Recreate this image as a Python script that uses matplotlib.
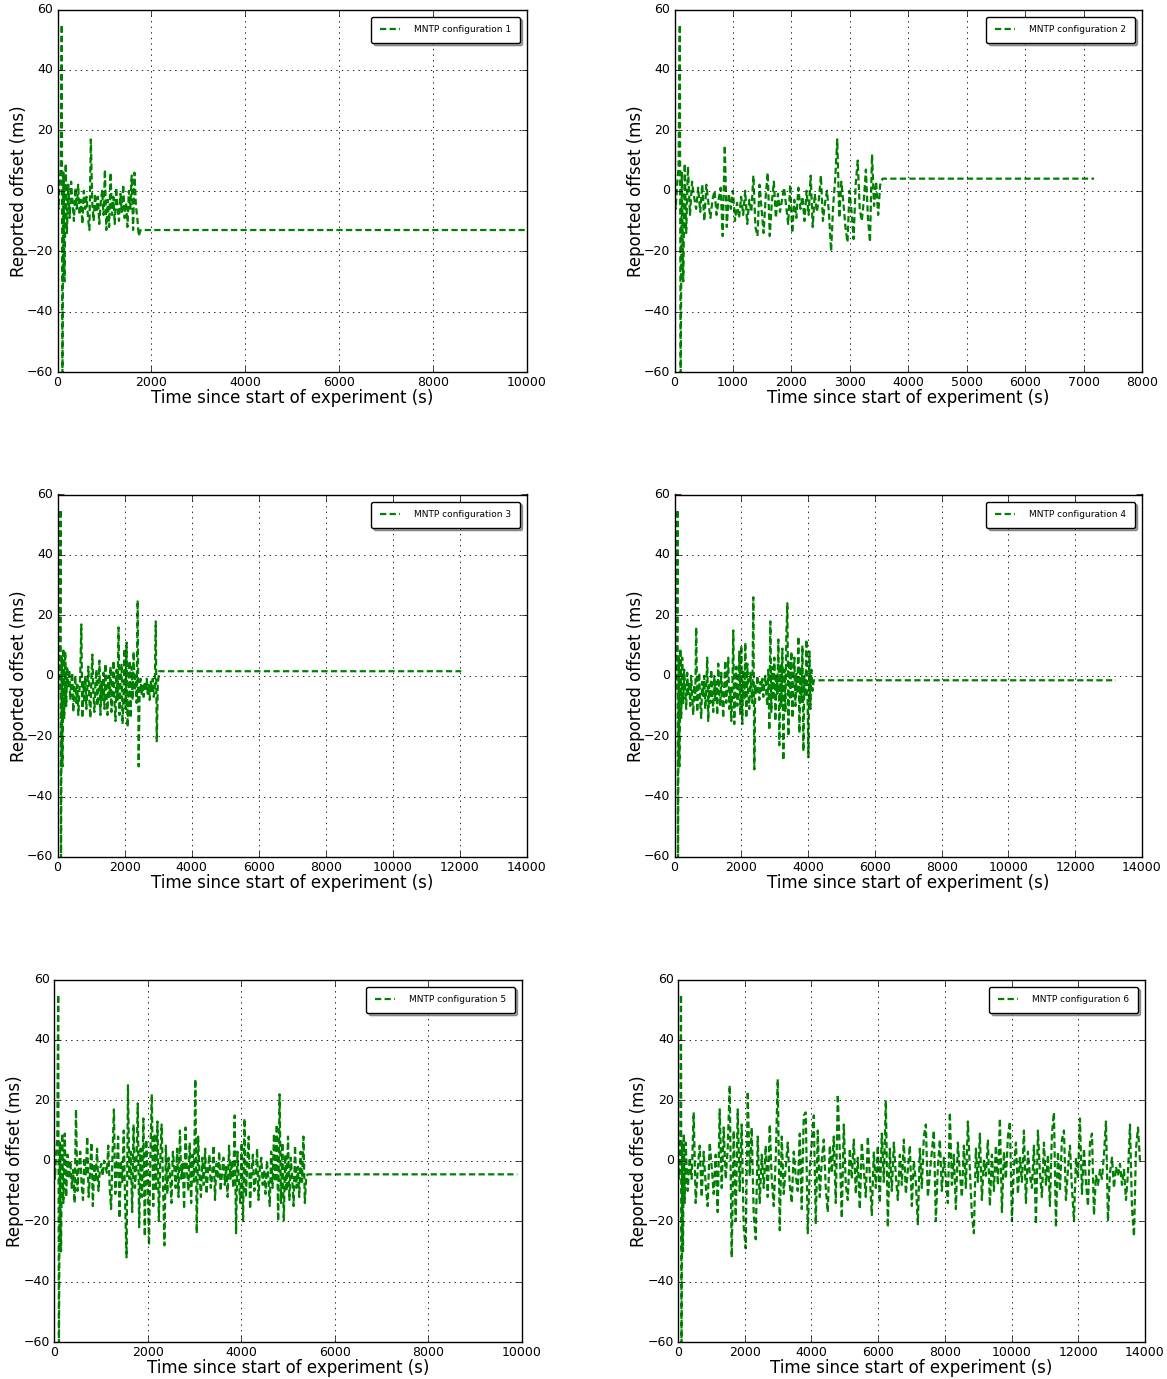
import matplotlib
matplotlib.use('Agg')
import matplotlib.pyplot as plt
import numpy as np

# Shared start-up transient (time s, offset ms)
start_t = [0, 20, 45, 70, 90, 105, 125, 150, 175, 200]
start_v = [-1, -6, 2, 8, 55, -62, 6, -30, 9, -14]

# Config 1: samples every 30 s after t=230, then flat tail
p1_step = 30
p1_vals = [2, -9, 3, -4, -10, 1, -6, 2, -8, -3,
           -11, 0, -6, -2, -9, -13, 17, -4, -10, -1,
           -7, -2, -11, -4, 0, -8, 7, -13, -3, -12,
           6, -8, -2, -11, 1, -6, -10, -1, -7, 2,
           -9, -4, -12, 0, -6, 5, -13, 6, -5, -9,
           -15]
p1_tail = -13
p1_end = 10000

# Config 2
p2_step = 35
p2_vals = [8, -8, 3, -2, -6, 1, -7, 2, -10, 2,
           -4, -9, -3, 0, -8, -3, 1, -15, 15, -12,
           -1, -6, 0, -10, -4, -9, -2, -8, 0, -11,
           -3, -7, 5, -12, -15, 2, -6, -14, -2, 6,
           -15, -4, 3, -9, -1, -7, -3, 1, -5, -11,
           2, -14, -3, -9, 1, -6, -2, -10, 0, -8,
           5, -12, -1, -7, -3, 5, -10, -4, 0, -8,
           -20, -5, 4, 17, -9, 3, -4, -12, -17, 0,
           -7, -16, 2, 10, -6, -10, -3, 7, -9, -17,
           12, -5, 3, -8, 2]
p2_tail = 4
p2_end = 7180

# Config 3
p3_step = 30
p3_vals = [8, -10, 3, -4, 2, -8, -2, 1, -12, -5,
           0, -9, -3, -13, -6, 1, 17, -14, -2, -9,
           0, -11, -4, 3, -8, -14, -1, 7, -6, -12,
           -3, 2, -10, -5, 5, -13, -2, -8, 1, -11,
           4, -6, -13, 0, -7, 3, -12, -4, 5, -9,
           -15, 2, -8, 16, -13, -2, 4, -16, -6, 9,
           -11, 11, -17, -3, 5, -14, 3, -8, 8, -5,
           0, -9, 25, -30, -4, -1, -6, -3, -7, -2,
           -5, -1, -6, -3, -8, -2, -5, -1, -7, -4,
           18, -22, -3]
p3_tail = 1.5
p3_end = 12040

# Config 4
p4_step = 30
p4_vals = [6, -9, 2, -4, -11, 1, -6, -2, -10, 0,
           -7, -13, -3, -8, 16, -12, -4, 1, -9, -14,
           -2, -7, 0, -11, -5, 6, -15, -3, -9, 2,
           -6, -12, 0, -8, -2, -13, 4, -5, -10, 1,
           -7, -14, -3, 5, -9, -1, 6, -11, -4, -15,
           -6, 15, -16, -3, 3, -10, -5, 8, -13, 10,
           -16, 2, -8, 11, -14, 4, -6, -11, 1, -4,
           -9, 26, -31, -3, -6, 0, -4, -8, -2, -5,
           -1, -7, -3, 0, -6, -10, 2, -18, 18, -12,
           3, -8, 6, -15, 0, -6, 12, -23, 4, -10,
           9, -28, 2, -12, 14, 24, -20, 5, -8, 8,
           -14, -2, 6, -10, 1, -6, 13, -19, 3, -9,
           10, -25, 0, -7, 12, -4, -27, 8, -11, 2,
           -5]
p4_tail = -1.5
p4_end = 13215

# Config 5
p5_step = 30
p5_vals = [9, -12, 2, -6, 0, -9, -3, -14, 17, -10,
           -2, 3, -8, -13, 1, -5, 8, -12, -4, 6,
           -15, -1, -7, 4, -10, -3, -1, -5, 0, -2,
           -4, 5, -9, -16, 2, 17, -11, -3, 8, -19,
           0, -7, 10, -14, -32, 25, -6, 3, -17, 12,
           -9, -2, 19, -22, 4, -12, 14, -25, 7, -4,
           -28, 2, 22, -15, 9, -10, 13, -20, 0, 12,
           -8, -28, 5, -11, 1, -5, -14, 3, -2, -9,
           4, -12, 10, -6, -1, -16, 11, -3, -10, 6,
           -14, 2, -7, 27, -24, 8, -5, -12, 1, -8,
           4, -11, -3, 2, -9, -5, 5, -13, -1, -6,
           3, -10, -4, 1, -8, -2, -12, 5, -6, 0,
           -9, 15, -24, 3, -7, -14, 6, -20, 14, -12,
           -1, 8, -16, -4, 2, -10, -6, 4, -13, -2,
           1, -8, -3, -11, 0, -6, -15, 3, -9, 9,
           -7, 12, -20, 22, -14, 6, -20, 2, -10, 8,
           -13, 1, -6, -15, 5, -9, -2, -12, 3, -7,
           8, -14, -5]
p5_tail = -4.5
p5_end = 9900

# Config 6 (no flat tail)
p6_step = 60
p6_vals = [6, -10, 1, -6, 16, -14, -3, 5, -12, 3,
           -8, -15, 6, -2, -11, 2, -17, 17, -9, 11,
           -6, 4, 25, -32, 10, -20, 17, -10, 12, -22,
           -29, 23, -5, 11, -18, -26, 8, -14, 2, -9,
           5, -12, 12, -6, -15, 1, 27, -23, 8, -11,
           -2, 6, -8, -14, 3, -5, -10, 9, -16, 15,
           16, -24, -3, 6, 15, -21, 10, -12, 0, 7,
           -9, -17, 5, -4, 8, -14, 22, 3, -19, 12,
           -8, -13, 4, -6, 7, -11, 1, -16, 6, -3,
           -12, 8, -5, -18, 3, -9, 5, -14, 9, -7,
           20, -22, 4, -10, 6, -5, -13, 2, -8, 7,
           -11, -3, 5, -15, 0, -7, -21, 4, -9, 8,
           12, -12, -4, 3, 10, -20, -2, 7, -10, 1,
           -6, -14, 16, -8, 2, -16, 6, -4, -12, 5,
           -9, 13, -3, -18, -24, 4, -7, 9, -13, 0,
           -5, 7, -15, 2, -10, 5, -8, 14, -17, 3,
           -6, 8, 13, -20, -2, 6, -11, 1, -7, 10,
           -14, 3, -5, -9, 5, -21, 10, -4, -12, 6,
           -8, 2, -15, 9, 16, -22, 3, -10, 7, 10,
           -13, -3, 5, -9, -20, 1, -6, 14, -11, 4,
           -7, -15, 6, 9, -18, -5, -8, -3, -6, 2,
           13, -20, -4, 1, -9, -2, -5, -1, -8, -3,
           -13, -4, 12, -16, -25, 4, 11, 0]

configs = [
    (p1_vals, p1_step, p1_tail, p1_end, 10000, 2000),
    (p2_vals, p2_step, p2_tail, p2_end, 8000, 1000),
    (p3_vals, p3_step, p3_tail, p3_end, 14000, 2000),
    (p4_vals, p4_step, p4_tail, p4_end, 14000, 2000),
    (p5_vals, p5_step, p5_tail, p5_end, 10000, 2000),
    (p6_vals, p6_step, None, None, 14000, 2000),
]

# axes boxes in pixels: left, top, right, bottom
W, H = 1167, 1379
boxes = [
    (57.5, 9.5, 527, 372),
    (674.5, 9.5, 1142, 372),
    (57.5, 494.5, 527, 857),
    (674.5, 494.5, 1142, 857),
    (54, 979.5, 522, 1342),
    (678, 979.5, 1145, 1342),
]

plt.style.use('classic')
plt.rcParams['font.family'] = 'DejaVu Sans'
fig = plt.figure(figsize=(W / 100, H / 100), dpi=100, facecolor='white')

for i, (vals, step, tail, end, xmax, xstep) in enumerate(configs):
    l, t, r, b = boxes[i]
    ax = fig.add_axes([l / W, 1 - b / H, (r - l) / W, (b - t) / H])
    times = list(start_t)
    offs = list(start_v)
    t0 = 230
    for k, v in enumerate(vals):
        times.append(t0 + k * step)
        offs.append(v)
    if tail is not None:
        times += [times[-1] + 40, end]
        offs += [tail, tail]
    ax.plot(times, offs, color='green', linestyle='--', dashes=(4.5, 2.4),
            linewidth=1.6, label='MNTP configuration %d' % (i + 1))
    ax.set_xlim(0, xmax)
    ax.set_ylim(-60, 60)
    ax.set_xticks(np.arange(0, xmax + 1, xstep))
    ax.set_yticks(np.arange(-60, 61, 20))
    ax.tick_params(labelsize=9, direction='in', length=4, pad=3)
    ax.grid(True, color='k', linestyle=':', linewidth=0.6)
    ax.set_xlabel('Time since start of experiment (s)', fontsize=12, labelpad=0)
    ax.set_ylabel('Reported offset (ms)', fontsize=12, labelpad=-0.5)
    ax.legend(loc='upper right', fontsize=6.5, fancybox=True, shadow=True,
              handlelength=2.2, handletextpad=1.6, borderpad=0.95,
              borderaxespad=0.8, numpoints=1)

fig.savefig('out.png', dpi=100, facecolor='white')
